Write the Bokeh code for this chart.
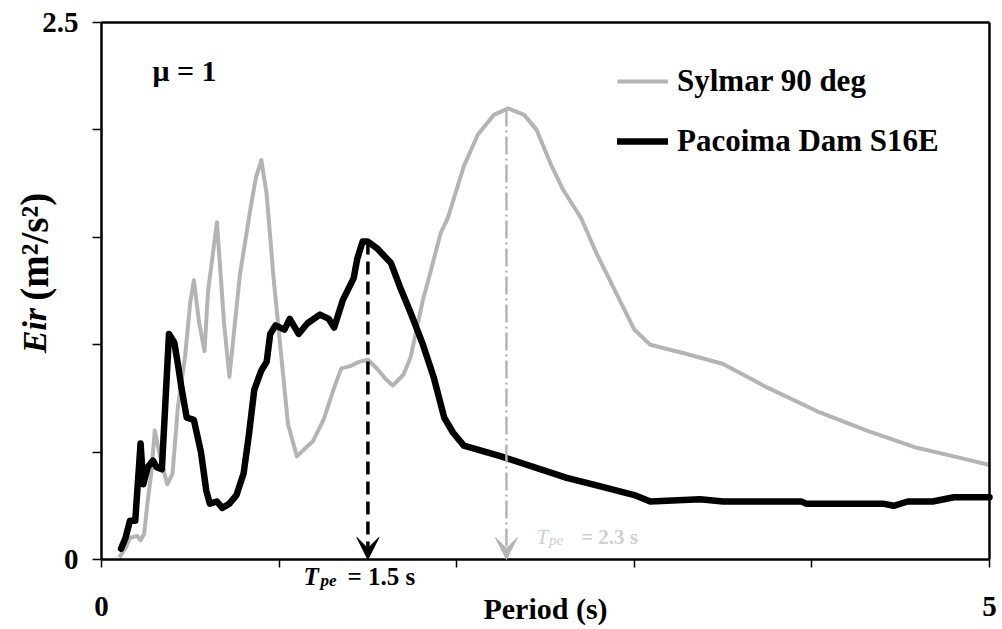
import math
from bokeh.plotting import figure
from bokeh.models import (Label, Arrow, VeeHead, ColumnDataSource, FixedTicker,
                          Legend, LegendItem, LinearAxis, Range1d)
from bokeh.embed import file_html
from bokeh.resources import INLINE

# ---------------- data ----------------
sylmar_period = [0.10, 0.14, 0.16, 0.20, 0.22, 0.24, 0.26, 0.28, 0.30, 0.33, 0.37, 0.40,
                 0.43, 0.47, 0.50, 0.52, 0.55, 0.58, 0.60, 0.65, 0.69, 0.72, 0.78, 0.84,
                 0.87, 0.90, 0.93, 0.97, 1.00, 1.05, 1.10, 1.15, 1.19, 1.25, 1.31, 1.35,
                 1.40, 1.45, 1.50, 1.55, 1.60, 1.64, 1.70, 1.74, 1.81, 1.84, 1.91, 1.95,
                 2.04, 2.12, 2.21, 2.29, 2.38, 2.45, 2.53, 2.60, 2.70, 2.79, 2.91, 3.00,
                 3.09, 3.28, 3.50, 3.75, 4.03, 4.31, 4.59, 4.80, 5.00]
sylmar_eir = [0.01, 0.06, 0.10, 0.11, 0.09, 0.12, 0.27, 0.40, 0.60, 0.48, 0.35, 0.40,
              0.71, 0.94, 1.20, 1.30, 1.10, 0.97, 1.25, 1.57, 1.10, 0.85, 1.33, 1.64,
              1.78, 1.86, 1.70, 1.30, 1.05, 0.63, 0.48, 0.52, 0.55, 0.65, 0.80, 0.89,
              0.90, 0.92, 0.93, 0.89, 0.84, 0.81, 0.86, 0.94, 1.21, 1.30, 1.52, 1.59,
              1.83, 1.98, 2.07, 2.10, 2.07, 2.00, 1.84, 1.72, 1.59, 1.42, 1.22, 1.07,
              1.00, 0.96, 0.91, 0.80, 0.69, 0.60, 0.52, 0.48, 0.44]

pacoima_period = [0.11, 0.135, 0.16, 0.19, 0.22, 0.235, 0.26, 0.29, 0.31, 0.34, 0.38,
                  0.41, 0.43, 0.45, 0.48, 0.52, 0.56, 0.59, 0.61, 0.65, 0.68, 0.72, 0.76,
                  0.80, 0.83, 0.86, 0.90, 0.93, 0.95, 0.98, 1.03, 1.06, 1.11, 1.16, 1.23,
                  1.28, 1.31, 1.36, 1.42, 1.44, 1.47, 1.50, 1.55, 1.63, 1.68, 1.74, 1.81,
                  1.87, 1.93, 1.98, 2.04, 2.25, 2.62, 2.81, 3.00, 3.09, 3.37, 3.50, 3.94,
                  3.97, 4.40, 4.46, 4.54, 4.68, 4.80, 5.00]
pacoima_eir = [0.05, 0.10, 0.18, 0.18, 0.54, 0.35, 0.43, 0.46, 0.43, 0.42, 1.05,
               1.01, 0.91, 0.80, 0.66, 0.65, 0.50, 0.32, 0.26, 0.27, 0.24, 0.26, 0.30,
               0.40, 0.58, 0.79, 0.88, 0.92, 1.05, 1.09, 1.07, 1.12, 1.05, 1.10, 1.14,
               1.12, 1.08, 1.21, 1.31, 1.40, 1.48, 1.48, 1.45, 1.38, 1.27, 1.15, 1.00,
               0.85, 0.66, 0.59, 0.53, 0.48, 0.38, 0.34, 0.30, 0.27, 0.28, 0.27, 0.27,
               0.26, 0.26, 0.25, 0.27, 0.27, 0.29, 0.29]

x_ticks = [0, 1, 2, 3, 4, 5]
x_tick_labels = ["0", "", "", "", "", "5"]
y_ticks = [0, 0.5, 1.0, 1.5, 2.0, 2.5]
y_tick_labels = ["0", "", "", "", "", "2.5"]
x_limits = (0, 5)
y_limits = (0, 2.5)

peak_period = [1.5, 2.28]   # Pacoima, Sylmar
peak_eir = [1.48, 2.10]
floor_eir = [0.0, 0.0]

series_names = ["Sylmar 90 deg", "Pacoima Dam S16E"]

SERIF = "Liberation Serif"
GRAY = "#b4b4b4"
FAINT = "#cfcfcf"

# ---------------- figure ----------------
# The frame covers the whole canvas; the axes sit at fixed locations inside it,
# so that every outside text can be drawn without being clipped.
p = figure(width=1002, height=629,
           x_range=Range1d(-0.5687, 5.0732), y_range=Range1d(-0.3259, 2.6024),
           output_backend="svg", toolbar_location=None,
           min_border_left=0, min_border_right=0,
           min_border_top=0, min_border_bottom=0)
p.title.visible = False
p.xgrid.visible = False
p.ygrid.visible = False
p.background_fill_color = "white"
p.border_fill_color = "white"
p.outline_line_color = None

p.xaxis.ticker = FixedTicker(ticks=x_ticks)
p.xaxis.major_label_overrides = {float(t): l for t, l in zip(x_ticks, x_tick_labels)}
p.yaxis.ticker = FixedTicker(ticks=y_ticks)
p.yaxis.major_label_overrides = {float(t): l for t, l in zip(y_ticks, y_tick_labels)}
p.xaxis.fixed_location = y_limits[0]
p.yaxis.fixed_location = x_limits[0]
p.xaxis.bounds = x_limits
p.yaxis.bounds = y_limits

for ax in (p.xaxis, p.yaxis):
    ax.axis_line_color = "black"
    ax.axis_line_width = 2.5
    ax.major_tick_line_color = "black"
    ax.major_tick_line_width = 1.5
    ax.major_tick_in = 0
    ax.minor_tick_line_color = None
    ax.major_label_text_font = SERIF
    ax.major_label_text_font_style = "bold"
    ax.major_label_text_font_size = "29px"
    ax.major_label_text_color = "black"
p.xaxis.major_tick_out = 8
p.yaxis.major_tick_out = 9
p.xaxis.major_label_standoff = 30
p.yaxis.major_label_standoff = 14

# closing lines of the box (top and right)
top_axis = LinearAxis(fixed_location=y_limits[1], bounds=x_limits,
                      ticker=FixedTicker(ticks=[]), axis_line_width=2.5,
                      major_tick_line_color=None, minor_tick_line_color=None)
right_axis = LinearAxis(fixed_location=x_limits[1], bounds=y_limits,
                        ticker=FixedTicker(ticks=[]), axis_line_width=2.5,
                        major_tick_line_color=None, minor_tick_line_color=None)
p.add_layout(top_axis, "above")
p.add_layout(right_axis, "right")

# ---------------- series ----------------
r_s = p.line(sylmar_period, sylmar_eir, line_color=GRAY, line_width=4,
             line_join="round")
r_p = p.line(pacoima_period, pacoima_eir, line_color="black", line_width=6.5,
             line_join="round", line_cap="round")

# ---------------- peak arrows ----------------
src_p = ColumnDataSource(dict(x=peak_period[:1], y0=peak_eir[:1], y1=floor_eir[:1]))
src_s = ColumnDataSource(dict(x=peak_period[1:], y0=peak_eir[1:], y1=floor_eir[1:]))
p.add_layout(Arrow(x_start="x", y_start="y0", x_end="x", y_end="y1", source=src_s,
                   line_color=GRAY, line_width=2.5, line_dash="18 4 2 4",
                   end=VeeHead(size=22, fill_color=GRAY, line_color=GRAY, line_width=1)))
p.add_layout(Arrow(x_start="x", y_start="y0", x_end="x", y_end="y1", source=src_p,
                   line_color="black", line_width=3.5, line_dash="13 7",
                   end=VeeHead(size=22, fill_color="black", line_color="black", line_width=1)))

# ---------------- legend ----------------
legend = Legend(items=[LegendItem(label=series_names[0], renderers=[r_s]),
                       LegendItem(label=series_names[1], renderers=[r_p])],
                location=(617, 470), orientation="vertical",
                glyph_width=51, label_standoff=9, spacing=24, padding=0, margin=0,
                border_line_alpha=0, background_fill_alpha=0,
                label_text_font=SERIF, label_text_font_style="bold",
                label_text_font_size="31px", label_text_color="black")
p.add_layout(legend)

# ---------------- texts ----------------
def lab(x, y, text, size, style="bold", color="black", align="left",
        baseline="alphabetic", angle=0.0):
    p.add_layout(Label(x=x, y=y, text=text, text_font=SERIF, text_font_style=style,
                       text_font_size=size, text_color=color, text_align=align,
                       text_baseline=baseline, angle=angle))

lab(0.287, 2.275, "μ = 1", "30px")
lab(2.5, -0.228, "Period (s)", "30px", align="center")

# y axis label (rotated)
lab(-0.375, 0.96, "Eir", "34px", style="bold italic", baseline="middle", angle=math.pi / 2)
lab(-0.375, 1.205, "(m²/s²)", "39px", baseline="middle", angle=math.pi / 2)

# T_pe = 1.5 s
lab(1.137, -0.079, "T", "25px", style="bold italic")
lab(1.233, -0.096, "pe", "17px", style="bold italic")
lab(1.385, -0.079, "= 1.5 s", "25px")

# faint T_pe = 2.3 s
lab(2.45, 0.107, "T", "21px", style="italic", color=FAINT)
lab(2.52, 0.092, "pe", "15px", style="italic", color=FAINT)
lab(2.7, 0.107, "= 2.3 s", "21px", color=FAINT)

open("out.html", "w").write(file_html(p, INLINE))
